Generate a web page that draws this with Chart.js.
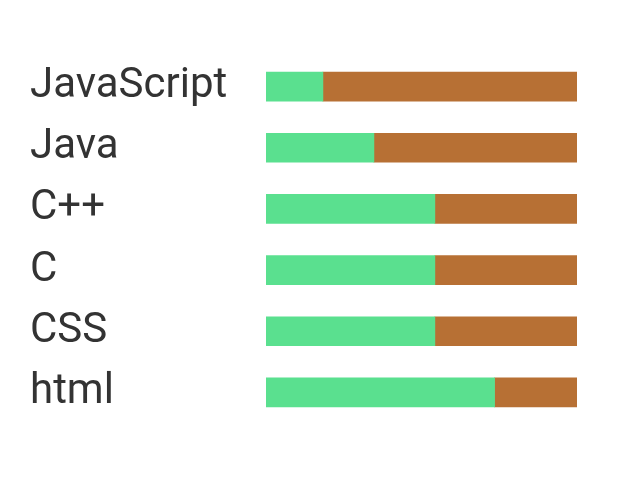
<!DOCTYPE html>
<html>
<head>
<meta charset="utf-8">
<script src="https://cdn.jsdelivr.net/npm/chart.js@4"></script>
<style>
  html, body { margin: 0; padding: 0; background: #ffffff; }
  #wrap { width: 629px; height: 478px; position: relative; }
</style>
</head>
<body>
<div id="wrap"><canvas id="c"></canvas></div>
<script>
const languages = ["JavaScript", "Java", "C++", "C", "CSS", "html"];
const greenValues = [18.3, 34.7, 54.3, 54.3, 54.3, 73.5];
const brownValues = [81.7, 65.3, 45.7, 45.7, 45.7, 26.5];

new Chart(document.getElementById("c"), {
  type: "bar",
  data: {
    labels: languages,
    datasets: [
      { label: "a", data: greenValues, backgroundColor: "#5ae08f", borderWidth: 0, barThickness: 29 },
      { label: "b", data: brownValues, backgroundColor: "#b77034", borderWidth: 0, barThickness: 29 }
    ]
  },
  options: {
    indexAxis: "y",
    responsive: true,
    maintainAspectRatio: false,
    animation: false,
    layout: { padding: { left: 30, right: 52, top: 56, bottom: 55 } },
    plugins: { legend: { display: false }, tooltip: { enabled: false } },
    scales: {
      x: {
        stacked: true,
        min: 0,
        max: 100,
        display: false
      },
      y: {
        stacked: true,
        border: { display: false },
        grid: { display: false, drawTicks: false },
        ticks: {
          crossAlign: "far",
          padding: 0,
          color: "#333333",
          font: { family: "Roboto", size: 42 }
        },
        afterFit: function (scale) { scale.width = 236; }
      }
    }
  }
});
</script>
</body>
</html>
